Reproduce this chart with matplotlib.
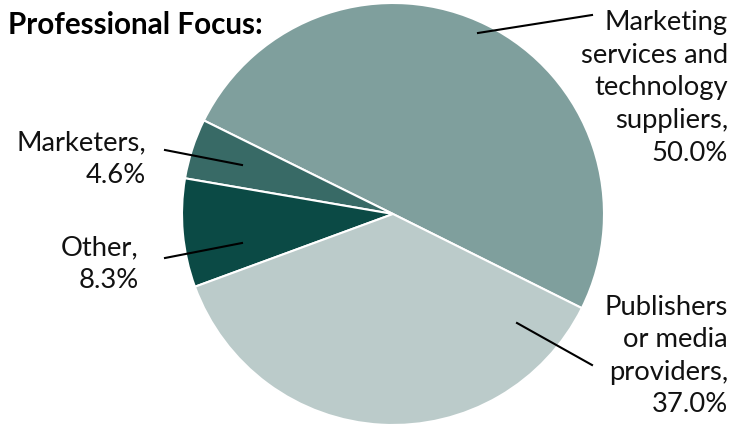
import matplotlib.pyplot as plt

# Data
labels = ["Marketing\nservices and\ntechnology\nsuppliers,\n50.0%",
          "Marketers,\n4.6%",
          "Other,\n8.3%",
          "Publishers\nor media\nproviders,\n37.0%"]
shares = [50.0, 4.6, 8.3, 37.0]
colors = ["#7F9F9D", "#386A66", "#0B4A45", "#BBCBCA"]

plt.rcParams['font.family'] = ['Lato', 'DejaVu Sans']

W, H = 734, 429
fig = plt.figure(figsize=(W / 100, H / 100), dpi=100)
ax = fig.add_axes([0, 0, 1, 1])

ax.pie(shares, colors=colors, startangle=-26.5, counterclock=True,
       center=(393, 215), radius=211, frame=True,
       wedgeprops=dict(edgecolor='white', linewidth=1.5))
ax.set_xlim(0, W)
ax.set_ylim(0, H)
ax.set_aspect('equal')
ax.axis('off')

# label text anchor (right edge, vertical centre) and leader line ends
text_pos = [(728, 341), (146, 270), (139, 165), (728, 73)]
leaders = [((478, 396), (592, 414)),
           ((242, 264), (165, 279)),
           ((242, 186), (165, 171)),
           ((517, 106), (592, 64))]

for lab, (tx, ty), (p0, p1) in zip(labels, text_pos, leaders):
    ax.text(tx, ty, lab, ha='right', va='center', multialignment='right',
            fontsize=19.7, linespacing=1.38, color='#111111')
    ax.plot([p0[0], p1[0]], [p0[1], p1[1]], color='black', lw=1.5)

ax.text(8, H - 25, "Professional Focus:", ha='left', va='center',
        fontsize=21.3, fontweight='bold', color='black')

fig.savefig("out.png", dpi=100)
